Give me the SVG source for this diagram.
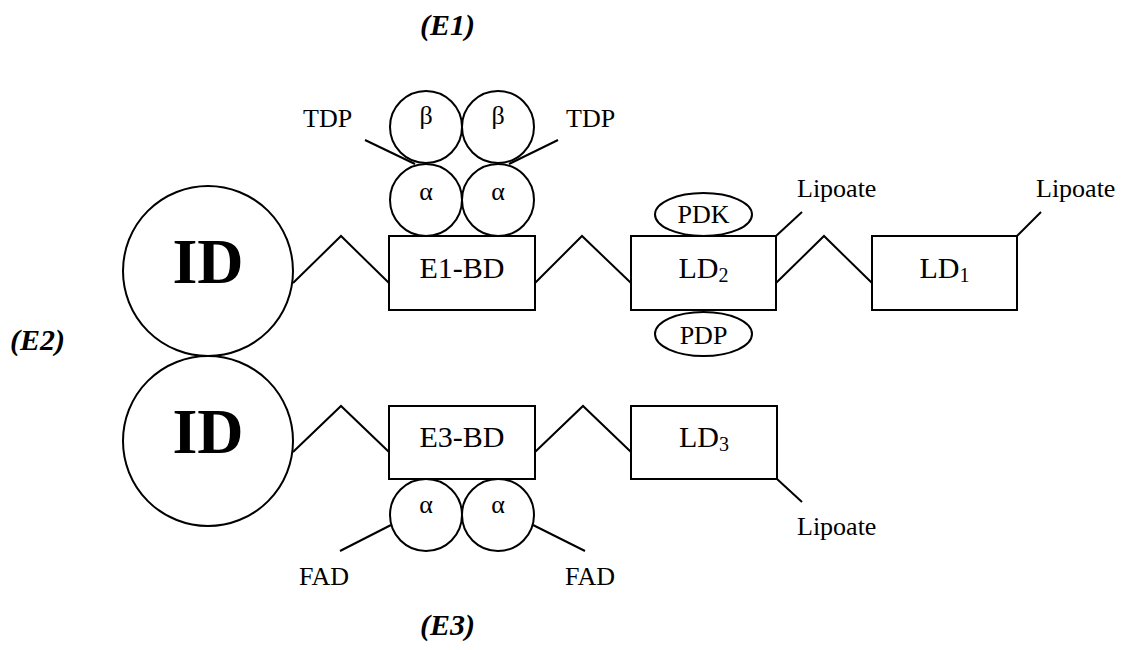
<svg xmlns="http://www.w3.org/2000/svg" width="1129" height="650" viewBox="0 0 1129 650">
<style>
.s{fill:#fff;stroke:#000;stroke-width:2}
.l{fill:none;stroke:#000;stroke-width:2}
text{font-family:"Liberation Serif","Times New Roman",serif;fill:#000}
.t{font-size:26px}
.m{font-size:30px}
.b{font-size:64px;font-weight:bold}
.e{font-size:30px;font-weight:bold;font-style:italic}
.c{text-anchor:middle}
</style>
<rect width="1129" height="650" fill="#fff"/>
<text class="e" x="420" y="35">(E1)</text>
<text class="e" x="10" y="350">(E2)</text>
<text class="e" x="420" y="635">(E3)</text>
<g id="connectors">
<polyline class="l" points="293,283 341,236 389,283"/>
<polyline class="l" points="535,283 582,236 631,283"/>
<polyline class="l" points="776,283 824,236 872,283"/>
<polyline class="l" points="293,452 341,406 389,452"/>
<polyline class="l" points="535,452 583,406 631,452"/>
<line class="l" x1="365" y1="140" x2="415" y2="164"/>
<line class="l" x1="558" y1="140" x2="509" y2="164"/>
<line class="l" x1="776" y1="236" x2="802" y2="212"/>
<line class="l" x1="1017" y1="236" x2="1041" y2="212"/>
<line class="l" x1="777" y1="479" x2="802" y2="502"/>
<line class="l" x1="391" y1="525" x2="340" y2="551"/>
<line class="l" x1="533" y1="525" x2="585" y2="551"/>
</g>
<g id="id-e2-top"><circle class="s" cx="208" cy="271" r="85"/><text class="b c" x="208" y="283">ID</text></g>
<g id="id-e2-bottom"><circle class="s" cx="208" cy="441" r="85"/><text class="b c" x="208" y="453">ID</text></g>
<g id="beta1"><circle class="s" cx="426" cy="127" r="36"/><text class="t c" x="426" y="124">β</text></g>
<g id="beta2"><circle class="s" cx="498" cy="127" r="36"/><text class="t c" x="498" y="124">β</text></g>
<g id="alpha1"><circle class="s" cx="426" cy="200" r="36"/><text class="t c" x="426" y="200">α</text></g>
<g id="alpha2"><circle class="s" cx="498" cy="200" r="36"/><text class="t c" x="498" y="200">α</text></g>
<g id="e1-bd"><rect class="s" x="389" y="236" width="146" height="74"/><text class="m c" x="462" y="278">E1-BD</text></g>
<g id="pdk"><ellipse class="s" cx="703.5" cy="214.5" rx="48.5" ry="21.5"/><text class="t c" x="703.5" y="223">PDK</text></g>
<g id="pdp"><ellipse class="s" cx="703.5" cy="334" rx="48.5" ry="22"/><text class="t c" x="703.5" y="344">PDP</text></g>
<g id="ld2"><rect class="s" x="631" y="236" width="145" height="74"/><text class="m c" x="703.5" y="278">LD<tspan font-size="20" dy="4">2</tspan></text></g>
<g id="ld1"><rect class="s" x="872" y="236" width="145" height="74"/><text class="m c" x="944.5" y="278">LD<tspan font-size="20" dy="4">1</tspan></text></g>
<g id="e3-bd"><rect class="s" x="389" y="406" width="146" height="73"/><text class="m c" x="462" y="447">E3-BD</text></g>
<g id="ld3"><rect class="s" x="631" y="406" width="146" height="73"/><text class="m c" x="704" y="447">LD<tspan font-size="20" dy="4">3</tspan></text></g>
<g id="alpha3"><circle class="s" cx="426" cy="515" r="36"/><text class="t c" x="426" y="513">α</text></g>
<g id="alpha4"><circle class="s" cx="498" cy="515" r="36"/><text class="t c" x="498" y="513">α</text></g>
<g id="labels">
<text class="t" x="303" y="127">TDP</text>
<text class="t" x="566" y="127">TDP</text>
<text class="t" x="797" y="197">Lipoate</text>
<text class="t" x="1036" y="197">Lipoate</text>
<text class="t" x="797" y="535">Lipoate</text>
<text class="t" x="299" y="585">FAD</text>
<text class="t" x="565" y="585">FAD</text>
</g>
</svg>
